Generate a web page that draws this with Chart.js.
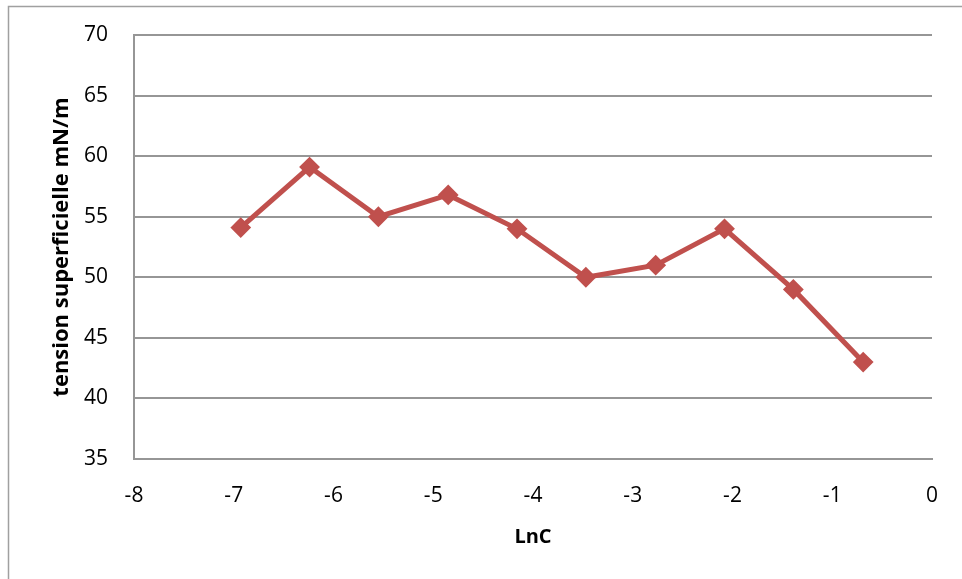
<!DOCTYPE html>
<html>
<head>
<meta charset="utf-8">
<script src="https://cdn.jsdelivr.net/npm/chart.js@4/dist/chart.umd.min.js"></script>
<style>
  html, body { margin: 0; padding: 0; background: #ffffff; }
  #wrap { width: 962px; height: 579px; }
</style>
</head>
<body>
<div id="wrap"><canvas id="chart" width="962" height="579"></canvas></div>
<script>
// Surface tension versus ln of concentration
const lnC = [-6.93, -6.24, -5.55, -4.85, -4.16, -3.47, -2.77, -2.08, -1.39, -0.69];
const tension = [54.1, 59.1, 55.0, 56.8, 54.0, 50.0, 51.0, 54.0, 49.0, 43.0];
const xTicks = [-8, -7, -6, -5, -4, -3, -2, -1, 0];
const yTicks = [35, 40, 45, 50, 55, 60, 65, 70];

const seriesColor = '#C0504D';
const gridColor = '#969696';
const fontFamily = "'Open Sans', 'Liberation Sans', sans-serif";

const points = lnC.map((x, i) => ({ x: x, y: tension[i] }));

// white background and thin frame around the whole chart
const framePlugin = {
  id: 'frame',
  beforeDraw(chart) {
    const ctx = chart.ctx;
    ctx.save();
    ctx.fillStyle = '#ffffff';
    ctx.fillRect(0, 0, chart.width, chart.height);
    ctx.strokeStyle = '#a0a0a0';
    ctx.lineWidth = 1.5;
    ctx.beginPath();
    ctx.moveTo(8.5, chart.height + 5);
    ctx.lineTo(8.5, 6.5);
    ctx.lineTo(chart.width + 5, 6.5);
    ctx.stroke();
    ctx.restore();
  }
};

new Chart(document.getElementById('chart'), {
  type: 'scatter',
  data: {
    datasets: [{
      data: points,
      showLine: true,
      tension: 0,
      borderColor: seriesColor,
      backgroundColor: seriesColor,
      borderWidth: 5,
      pointStyle: 'rectRot',
      pointRadius: 9,
      pointHoverRadius: 9,
      pointBorderWidth: 2,
      pointBorderColor: seriesColor,
      pointBackgroundColor: seriesColor
    }]
  },
  options: {
    responsive: false,
    animation: false,
    events: [],
    layout: { padding: { left: 0, right: 30, top: 35, bottom: 0 } },
    plugins: {
      legend: { display: false },
      tooltip: { enabled: false }
    },
    scales: {
      x: {
        type: 'linear',
        min: xTicks[0],
        max: xTicks[xTicks.length - 1],
        afterBuildTicks(scale) { scale.ticks = xTicks.map(v => ({ value: v })); },
        afterFit(scale) {
          scale.height = 120;
          scale.paddingLeft = 0;
          scale.paddingRight = 0;
        },
        grid: { display: false, drawTicks: false },
        border: { display: true, color: gridColor, width: 2 },
        ticks: {
          color: '#000000',
          padding: 24,
          font: { family: fontFamily, size: 21 },
          callback: v => String(v)
        },
        title: {
          display: true,
          text: 'LnC',
          color: '#000000',
          font: { family: fontFamily, size: 20, weight: 'bold' },
          padding: { top: 0, bottom: 30 }
        }
      },
      y: {
        type: 'linear',
        min: yTicks[0],
        max: yTicks[yTicks.length - 1],
        afterBuildTicks(scale) { scale.ticks = yTicks.map(v => ({ value: v })); },
        afterFit(scale) {
          scale.width = 134;
          scale.paddingTop = 0;
          scale.paddingBottom = 0;
        },
        grid: { display: true, drawTicks: false, color: gridColor, lineWidth: 2 },
        border: { display: true, color: gridColor, width: 2 },
        ticks: {
          color: '#000000',
          padding: 26,
          font: { family: fontFamily, size: 21 },
          callback: v => String(v)
        },
        title: {
          display: true,
          text: 'tension superficielle mN/m',
          color: '#000000',
          font: { family: fontFamily, size: 22, weight: 'bold' },
          padding: { top: 49, bottom: 0 }
        }
      }
    }
  },
  plugins: [framePlugin]
});
</script>
</body>
</html>
